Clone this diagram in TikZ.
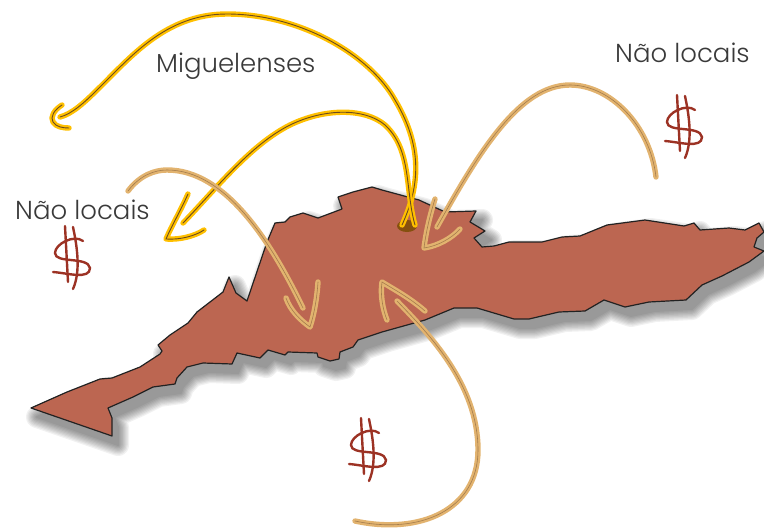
\documentclass[tikz,border=0pt]{standalone}
\usepackage{fontspec}
\setmainfont{Poppins}[UprightFont=* Light]
\definecolor{ilhaFill}{HTML}{BC6651}
\definecolor{ilhaLine}{HTML}{222222}
\definecolor{amarelo}{HTML}{FFC000}
\definecolor{amareloCore}{HTML}{6B4A1E}
\definecolor{bege}{HTML}{E2B36F}
\definecolor{begeCore}{HTML}{A47C4C}
\definecolor{cifrao}{HTML}{9C3224}
\definecolor{texto}{HTML}{3A3A3A}
\definecolor{furo}{HTML}{85500F}
\newcommand{\ilhaPath}{(31,408) -- (67,392) -- (100,379) -- (112,378) -- (140,367) -- (160,354) -- (162,351) -- (158,345) -- (170,335) -- (188,323) -- (197,312) -- (223,292) -- (229,277) -- (236,293) -- (247,301) -- (267,242) -- (275,223) -- (285,222) -- (290,217) -- (303,213) -- (318,218) -- (342,209) -- (338,197) -- (353,192) -- (372,187) -- (382,190) -- (419,200) -- (445,212) -- (476,211) -- (470,222) -- (485,231) -- (474,238) -- (482,247) -- (494,246) -- (509,242) -- (542,242) -- (562,237) -- (580,236) -- (607,225) -- (645,220) -- (684,226) -- (694,223) -- (700,230) -- (729,228) -- (745,230) -- (759,223) -- (764,232) -- (757,238) -- (754,247) -- (764,251) -- (749,262) -- (722,276) -- (702,285) -- (686,300) -- (649,302) -- (625,307) -- (604,300) -- (585,311) -- (559,312) -- (529,319) -- (514,319) -- (477,308) -- (454,308) -- (425,320) -- (382,332) -- (358,340) -- (353,347) -- (340,352) -- (339,359) -- (330,361) -- (318,357) -- (317,353) -- (288,352) -- (285,355) -- (268,350) -- (260,358) -- (237,353) -- (232,364) -- (203,363) -- (187,367) -- (177,378) -- (175,384) -- (153,387) -- (133,397) -- (108,408) -- (112,418) -- (112,436) -- cycle}
\tikzset{
	rotulo/.style={text=texto, font=\fontsize{26}{30}\selectfont, inner sep=0pt, anchor=base west},
	setaAmarela/.style={preaction={draw=amarelo, line width=5.4pt, line cap=round, line join=round}, draw=amareloCore, line width=0.9pt, line cap=round},
	setaBege/.style={preaction={draw=bege, line width=5.4pt, line cap=round, line join=round}, draw=begeCore, line width=0.6pt, line cap=round},
	cifraoDesenho/.pic={
		\draw[cifrao, line width=2.4pt, line cap=round] (13,0) -- (16,56);
		\draw[cifrao, line width=2.4pt, line cap=round] (21,1) .. controls (25,20) and (29,45) .. (21,63);
		\draw[cifrao, line width=2.4pt, line cap=round] (31,15) .. controls (22,8) and (3,18) .. (3,27) .. controls (3,38) and (36,30) .. (38,42) .. controls (38,54) and (15,47) .. (1,46);
	}
}
\begin{document}
\begin{tikzpicture}[x=1pt, y=-1pt]
	\useasboundingbox (0,0) rectangle (764,530);
	% Sombra da ilha
	\foreach \w in {22, 19.5, 17, 14.5, 12, 9.5, 7, 4.5, 2} {
		\begin{scope}[transparency group, opacity=0.055]
			\fill[black, draw=black, line width=\w pt, line join=round, shift={(6,9)}] \ilhaPath;
		\end{scope}
	}
	% Ilha
	\draw[fill=ilhaFill, draw=ilhaLine, line width=1.2pt, line join=round] \ilhaPath;
	\fill[furo] (407,226) ellipse (10 and 6);
	% Setas amarelas
	\draw[setaAmarela] (402,225) .. controls (418,190) and (425,150) .. (395,100) .. controls (370,55) and (300,14) .. (227,14) .. controls (165,14) and (130,58) .. (97,90) .. controls (85,102) and (72,114) .. (60,117);
	\draw[setaAmarela] (62,105) .. controls (54,110) and (50,117) .. (53,122) .. controls (56,127) and (63,128) .. (69,128);
	\draw[setaAmarela] (415,225) .. controls (405,190) and (412,150) .. (385,125) .. controls (365,108) and (325,108) .. (290,125) .. controls (250,145) and (215,190) .. (183,223);
	\draw[setaAmarela] (188,194) .. controls (180,212) and (172,225) .. (166,239) .. controls (180,240) and (195,236) .. (204,230);
	% Setas bege
	\draw[setaBege] (656,177) .. controls (650,125) and (610,85) .. (570,85) .. controls (520,85) and (480,150) .. (437,227);
	\draw[setaBege] (435,199) .. controls (430,215) and (426,232) .. (424,248) .. controls (438,246) and (452,238) .. (460,229);
	\draw[setaBege] (128,191) .. controls (140,175) and (155,170) .. (167,170) .. controls (225,170) and (270,240) .. (303,308);
	\draw[setaBege] (318,282) .. controls (317,298) and (314,315) .. (310,327) .. controls (300,320) and (290,310) .. (286,298);
	\draw[setaBege] (355,521) .. controls (420,535) and (478,510) .. (478,450) .. controls (478,385) and (430,335) .. (397,301);
	\draw[setaBege] (425,311) .. controls (410,298) and (395,290) .. (382,282) .. controls (380,295) and (383,310) .. (387,320);
	% Textos
	\node[rotulo] (miguelenses) at (156,72) {Miguelenses};
	\node[rotulo] (naoLocaisDir) at (615,62) {Não locais};
	\node[rotulo] (naoLocaisEsq) at (15,219) {Não locais};
	% Cifroes
	\pic (cifraoEsq) at (52,226) {cifraoDesenho};
	\pic (cifraoBaixo) at (348,418) {cifraoDesenho};
	\pic (cifraoDir) at (664,95) {cifraoDesenho};
\end{tikzpicture}
\end{document}
